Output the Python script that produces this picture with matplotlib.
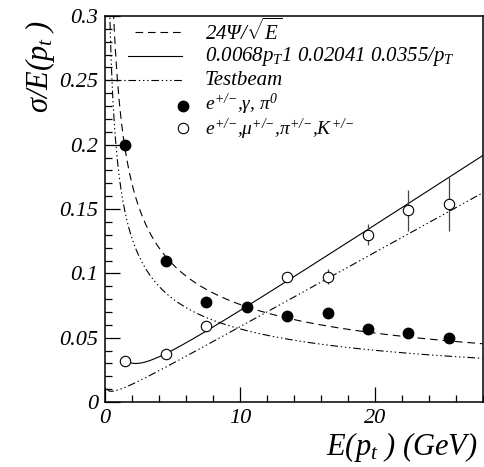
import numpy as np
import matplotlib
matplotlib.use("Agg")
import matplotlib.pyplot as plt
from matplotlib.ticker import MultipleLocator, FormatStrFormatter

plt.rcParams['font.family'] = ['Liberation Serif', 'DejaVu Serif']
plt.rcParams['font.style'] = 'italic'
plt.rcParams['mathtext.fontset'] = 'custom'
plt.rcParams['mathtext.it'] = 'Liberation Serif:italic'
plt.rcParams['mathtext.rm'] = 'Liberation Serif'
plt.rcParams['mathtext.bf'] = 'Liberation Serif:bold'
plt.rcParams['lines.scale_dashes'] = False

# measured resolutions
energy = [1.5, 4.5, 7.5, 10.5, 13.5, 16.5, 19.5, 22.5, 25.5]
res_egamma = [0.200, 0.110, 0.078, 0.074, 0.067, 0.069, 0.057, 0.054, 0.050]

energy_charged = [1.5, 4.5, 7.5, 13.5, 16.5, 19.5, 22.5, 25.5]
res_charged = [0.032, 0.037, 0.059, 0.097, 0.0975, 0.130, 0.149, 0.154]
err_charged = [0.001, 0.001, 0.002, 0.002, 0.006, 0.008, 0.016, 0.021]

# fit parameters
stoch_term = 0.24                       # 24%/sqrt(E)
track_terms = [0.0068, 0.02041, 0.0355]  # a*pT (+) b (+) c/pT
beam_stoch = 0.18                        # test-beam calorimeter term
beam_track = [0.0058, 0.0075, 0.0012]    # test-beam tracking terms

x_ticks = [0, 10, 20]
y_ticks = [0, 0.05, 0.1, 0.15, 0.2, 0.25, 0.3]

fig = plt.figure(figsize=(4.85, 4.67), dpi=100)
ax = fig.add_axes([0.2165, 0.139, 0.7785, 0.8267])
ax.set_xlim(0, 28)
ax.set_ylim(0, 0.3)

lw = 0.8
dash = (0, (5.5, 3.5))
dashdotdot = (0, (5.5, 2.0, 1.0, 2.0, 1.0, 2.0, 1.0, 2.0))

e1 = np.linspace(0.5, 28, 400)
ax.plot(e1, stoch_term / np.sqrt(e1), color='black', lw=lw, linestyle=dash)

e2 = np.linspace(1.5, 28, 400)
a, b, c = track_terms
ax.plot(e2, np.sqrt((a * e2) ** 2 + b ** 2 + (c / e2) ** 2), color='black', lw=lw)

e3 = np.linspace(0.3, 28, 400)
ax.plot(e3, beam_stoch / np.sqrt(e3), color='black', lw=lw, linestyle=dashdotdot)
e4 = np.linspace(0.17, 28, 400)
ta, tb, tc = beam_track
ax.plot(e4, np.sqrt((ta * e4) ** 2 + tb ** 2 + (tc / e4) ** 2), color='black',
        lw=lw, linestyle=dashdotdot)

ax.errorbar(energy_charged, res_charged, yerr=err_charged, fmt='o', ms=7.5,
            mfc='white', mec='black', mew=0.8, ecolor='#444444', elinewidth=0.9,
            capsize=0, zorder=3)
ax.plot(energy, res_egamma, 'o', ms=7.5, color='black', zorder=4)

# legend
T = ax.transAxes
fs_leg = 15
ax.plot([0.079, 0.204], [0.9585, 0.9585], transform=T, color='black', lw=lw, linestyle=dash)
ax.plot([0.061, 0.204], [0.896, 0.896], transform=T, color='black', lw=lw)
ax.plot([0.0, 0.204], [0.834, 0.834], transform=T, color='black', lw=lw, linestyle=dashdotdot)
ax.plot([0.207], [0.766], 'o', transform=T, ms=7.5, color='black', clip_on=False)
ax.plot([0.207], [0.710], 'o', transform=T, ms=7.5, mfc='white', mec='black', mew=0.8,
        clip_on=False)
tx = 0.265
pm = '^{\\text{+/\u2212}}'
ax.text(tx, 0.9585, r'$24\mathrm{\Psi}/\sqrt{E}$', transform=T, fontsize=fs_leg, va='center')
ax.text(tx, 0.896, r'0.0068$p_T$1 0.02041 0.0355/$p_T$', transform=T, fontsize=fs_leg, va='center')
ax.text(tx, 0.834, 'Testbeam', transform=T, fontsize=fs_leg, va='center')
ax.text(tx, 0.772, '$e' + pm + r'$,$\mathrm{\gamma}$, $\mathrm{\pi}^{0}$', transform=T,
        fontsize=14, va='center')
ax.text(tx, 0.706, '$e' + pm + r'$,$\mathrm{\mu}' + pm + r'$,$\mathrm{\pi}' + pm
        + '$,$K' + pm + '$', transform=T, fontsize=14, va='center')

# axes styling
ax.xaxis.set_minor_locator(MultipleLocator(2))
ax.yaxis.set_minor_locator(MultipleLocator(0.01))
ax.set_xticks(x_ticks)
ax.set_yticks(y_ticks)
ax.yaxis.set_major_formatter(FormatStrFormatter('%g'))
ax.tick_params(which='both', direction='in', top=False, right=False, width=0.9,
               labelsize=16)
ax.tick_params(which='major', length=11)
ax.tick_params(which='minor', length=5)
ax.tick_params(axis='x', pad=5)
ax.tick_params(axis='y', pad=5)
for s in ax.spines.values():
    s.set_linewidth(1.1)

fig.text(40 / 485, 0.957, r'$\mathrm{\sigma}/E(p_t\ )$', rotation=90, ha='center',
         va='top', fontsize=22)
fig.text(0.9856, 0.043, r'$E(p_t\ )$ $(GeV)$', ha='right', va='center', fontsize=22)

fig.savefig('out.png', dpi=100)
